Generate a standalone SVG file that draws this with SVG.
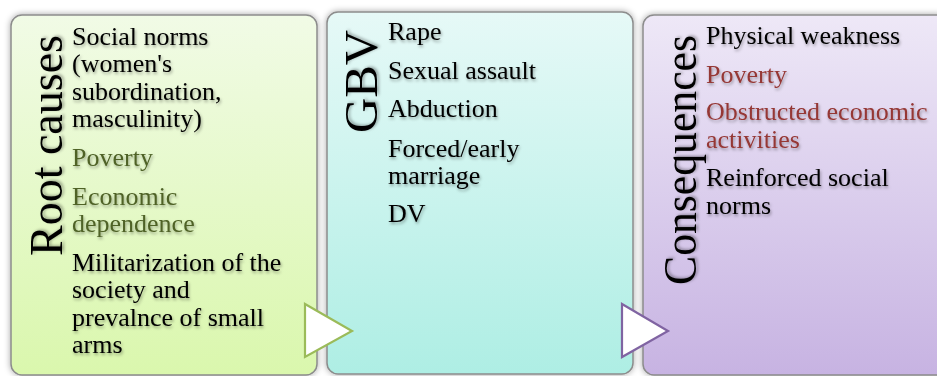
<svg xmlns="http://www.w3.org/2000/svg" width="937" height="376" viewBox="0 0 937 376">
<style>
.box{stroke:#8c8c8c;stroke-width:1.5;filter:url(#bshadow)}
.t{font-family:"Liberation Serif","Times New Roman",serif;font-size:26px;fill:#000;filter:url(#tshadow)}
.title{font-family:"Liberation Serif","Times New Roman",serif;font-size:47px;fill:#000;filter:url(#tshadow)}
.g{fill:#4f6228}
.r{fill:#953735}
.arr{fill:#fff;stroke-width:2.2;stroke-linejoin:miter}
</style>
<defs>
<linearGradient id="g1" x1="0" y1="0" x2="0" y2="1"><stop offset="0" stop-color="#f1fbe6"/><stop offset="1" stop-color="#daf7ad"/></linearGradient>
<linearGradient id="g2" x1="0" y1="0" x2="0" y2="1"><stop offset="0" stop-color="#e6f9f7"/><stop offset="1" stop-color="#aeeee4"/></linearGradient>
<linearGradient id="g3" x1="0" y1="0" x2="0" y2="1"><stop offset="0" stop-color="#eee8f7"/><stop offset="1" stop-color="#c7b3e2"/></linearGradient>
<filter id="bshadow" x="-10%" y="-10%" width="120%" height="120%"><feDropShadow dx="0" dy="0" stdDeviation="3" flood-color="#000" flood-opacity="0.35"/></filter>
<filter id="tshadow" x="-10%" y="-20%" width="120%" height="150%"><feDropShadow dx="1" dy="2" stdDeviation="1.6" flood-color="#000" flood-opacity="0.35"/></filter>
</defs>
<g id="root-causes">
<rect class="box" x="11" y="15" width="306" height="360" rx="11" fill="url(#g1)"/>
<text class="title" transform="translate(62,35) rotate(-90)" text-anchor="end" textLength="221" lengthAdjust="spacingAndGlyphs">Root causes</text>
<text class="t" x="72" y="45">Social norms</text>
<text class="t" x="72" y="72">(women's</text>
<text class="t" x="72" y="100">subordination,</text>
<text class="t" x="72" y="127">masculinity)</text>
<text class="t g" x="72" y="166">Poverty</text>
<text class="t g" x="72" y="205">Economic</text>
<text class="t g" x="72" y="232">dependence</text>
<text class="t" x="72" y="271">Militarization of the</text>
<text class="t" x="72" y="298">society and</text>
<text class="t" x="72" y="326">prevalnce of small</text>
<text class="t" x="72" y="353">arms</text>
</g>
<g id="gbv">
<rect class="box" x="327" y="12" width="306" height="362" rx="11" fill="url(#g2)"/>
<text class="title" transform="translate(377,30) rotate(-90)" text-anchor="end" textLength="103" lengthAdjust="spacingAndGlyphs">GBV</text>
<text class="t" x="388" y="40">Rape</text>
<text class="t" x="388" y="79">Sexual assault</text>
<text class="t" x="388" y="117">Abduction</text>
<text class="t" x="388" y="157">Forced/early</text>
<text class="t" x="388" y="184">marriage</text>
<text class="t" x="388" y="222">DV</text>
</g>
<g id="consequences">
<rect class="box" x="643" y="15" width="306" height="360" rx="11" fill="url(#g3)"/>
<text class="title" transform="translate(696,35) rotate(-90)" text-anchor="end" textLength="250" lengthAdjust="spacingAndGlyphs">Consequences</text>
<text class="t" x="706" y="44">Physical weakness</text>
<text class="t r" x="706" y="83">Poverty</text>
<text class="t r" x="706" y="120">Obstructed economic</text>
<text class="t r" x="706" y="148">activities</text>
<text class="t" x="706" y="186">Reinforced social</text>
<text class="t" x="706" y="214">norms</text>
</g>
<g id="connectors">
<polygon class="arr" stroke="#9bbb59" points="305,304 352,331 305,357"/>
<polygon class="arr" stroke="#8064a2" points="622,304 668,331 622,357"/>
</g>
</svg>
